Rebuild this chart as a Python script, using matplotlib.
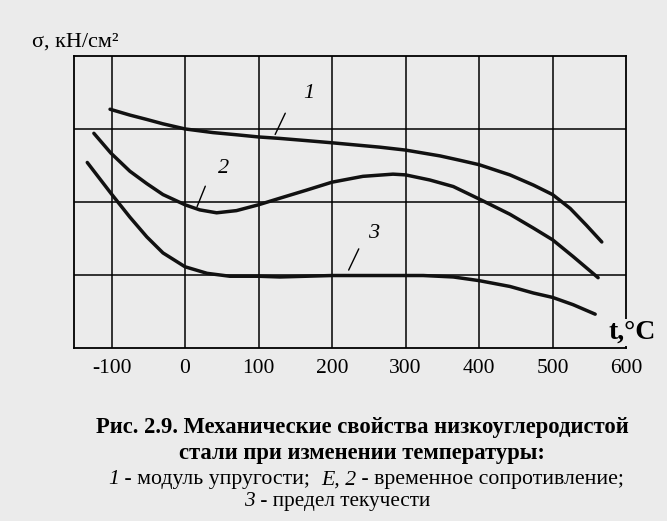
import matplotlib
matplotlib.use("Agg")
import matplotlib.pyplot as plt

plt.rcParams['font.family'] = ['Liberation Serif', 'DejaVu Serif']

# values (y in grid units, 4 rows)
t1 = [-102, -75, -52, -30, 0, 38, 70, 100, 129, 165, 200, 265, 300, 347, 374, 400, 442, 474, 500, 524, 546, 567]
s1 = [3.27, 3.19, 3.13, 3.07, 3.00, 2.95, 2.92, 2.89, 2.87, 2.84, 2.81, 2.75, 2.71, 2.63, 2.57, 2.51, 2.37, 2.23, 2.10, 1.91, 1.68, 1.45]

t2 = [-124, -101, -75, -52, -30, 0, 20, 43, 70, 100, 129, 165, 200, 242, 283, 300, 333, 365, 400, 442, 474, 500, 528, 562]
s2 = [2.94, 2.67, 2.42, 2.25, 2.10, 1.96, 1.89, 1.85, 1.88, 1.96, 2.05, 2.16, 2.27, 2.35, 2.38, 2.37, 2.30, 2.21, 2.04, 1.83, 1.64, 1.48, 1.25, 0.96]

t3 = [-133, -101, -75, -52, -30, 0, 30, 61, 100, 129, 200, 300, 324, 365, 400, 442, 474, 500, 528, 558]
s3 = [2.54, 2.12, 1.79, 1.52, 1.30, 1.11, 1.02, 0.98, 0.98, 0.97, 0.99, 0.99, 0.99, 0.97, 0.92, 0.84, 0.75, 0.69, 0.59, 0.46]

xticks = [-100, 0, 100, 200, 300, 400, 500, 600]
xgrid = [-100, 0, 100, 200, 300, 400, 500]
ygrid = [1, 2, 3]

# curve labels: text, text position, leader line
labels = ['1', '2', '3']
label_pos = [(168, 3.49), (52, 2.46), (256, 1.57)]
leader_start = [(138, 3.25), (29, 2.25), (238, 1.39)]
leader_end = [(121, 2.89), (15, 1.90), (221, 1.03)]

caption_bold = ['Рис. 2.9. Механические свойства низкоуглеродистой',
                'стали при изменении температуры:']
caption_legend = [
    [('1', 'italic'), (' - модуль упругости;  ', 'normal'), ('E, 2', 'italic'),
     (' - временное сопротивление;', 'normal')],
    [('3', 'italic'), (' - предел текучести', 'normal')],
]

bg = '#ebebeb'
W, H = 667, 521
fig = plt.figure(figsize=(W / 100, H / 100), dpi=100, facecolor=bg)
ax = fig.add_axes([0.111, 0.3326, 0.8276, 0.5599], facecolor=bg)

for x in xgrid:
    ax.axvline(x, color='black', lw=1.1)
for y in ygrid:
    ax.axhline(y, color='black', lw=1.1)

for t, s in [(t1, s1), (t2, s2), (t3, s3)]:
    ax.plot(t, s, color='#111111', lw=2.5, solid_joinstyle='round', solid_capstyle='round')

for lab, p, a, b in zip(labels, label_pos, leader_start, leader_end):
    ax.text(p[0], p[1], lab, fontsize=16, style='italic', ha='center', va='center')
    ax.annotate('', xy=b, xytext=a, arrowprops=dict(arrowstyle='-', lw=1.0, color='black'))

ax.set_xlim(-151, 600)
ax.set_ylim(0, 4)
ax.set_xticks(xticks)
ax.set_xticklabels([str(v) for v in xticks], fontsize=15.5)
ax.set_yticks([])
ax.tick_params(axis='x', length=0, pad=8)
for sp in ax.spines.values():
    sp.set_linewidth(1.3)

fig.text(0.048, 0.92, 'σ, кН/см²', fontsize=16, ha='left', va='center')
fig.text(0.948, 0.362, 't,°C', fontsize=20, fontweight='bold', ha='center', va='center',
         bbox=dict(facecolor=bg, edgecolor='none', pad=1))

fig.text(0.543, 0.180, caption_bold[0], fontsize=16.3, fontweight='bold', ha='center', va='center')
fig.text(0.543, 0.130, caption_bold[1], fontsize=16.3, fontweight='bold', ha='center', va='center')

# legend lines mix italic and upright pieces: place them one after another
renderer = fig.canvas.get_renderer()
for pieces, yc, xc, fs in zip(caption_legend, [0.079, 0.037], [0.549, 0.505], [15.7, 15.3]):
    objs = [fig.text(0, yc, txt, fontsize=fs, style=st, ha='left', va='center')
            for txt, st in pieces]
    widths = [o.get_window_extent(renderer).width / W for o in objs]
    x = xc - sum(widths) / 2
    for o, w in zip(objs, widths):
        o.set_x(x)
        x += w

fig.savefig('out.png', dpi=100, facecolor=bg)
